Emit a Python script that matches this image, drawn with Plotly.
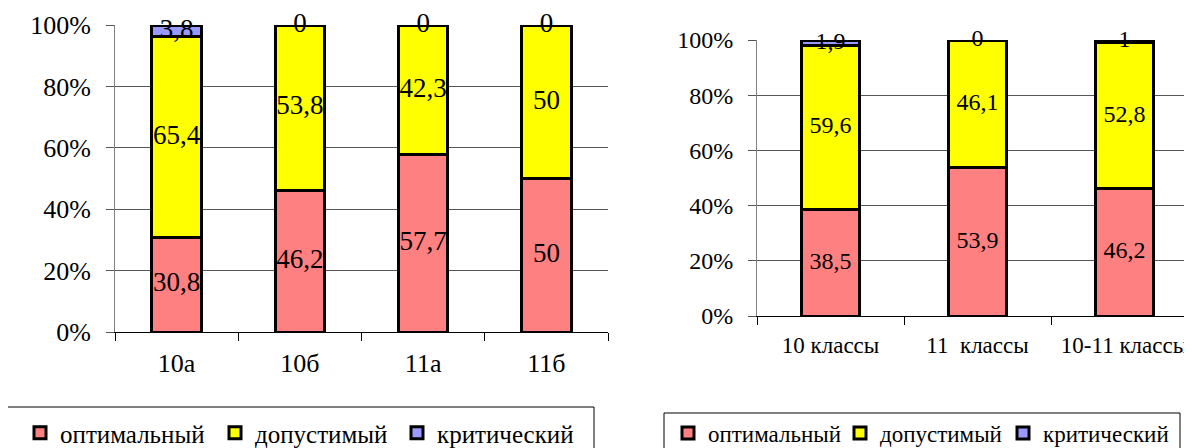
import numpy as np
import plotly.graph_objects as go

W, H = 1192, 448
OFF = 8  # default page margin around the plot div
FONT = "Liberation Serif"

# left chart: by class
classes = ["10а", "10б", "11а", "11б"]
optimal_cls = [30.8, 46.2, 57.7, 50]
allowed_cls = [65.4, 53.8, 42.3, 50]
critical_cls = [3.8, 0, 0, 0]

# right chart: by grade
grades = ["10 классы", "11\u00a0 классы", "10-11 классы"]
optimal_gr = [38.5, 53.9, 46.2]
allowed_gr = [59.6, 46.1, 52.8]
critical_gr = [1.9, 0, 1]

levels = ["оптимальный", "допустимый", "критический"]
colors = ["#FF8080", "#FFFF00", "#9999FF"]


def px_x(v):
    return (v - OFF) / W


def px_y(v):
    return 1 - (v - OFF) / H


def fmt(v):
    return f"{v:g}".replace(".", ",")


fig = go.Figure()


def add_chart(cats, series, xa, ya, legends, bar_w, fsize):
    for name, vals, col, lg in zip(levels, series, colors, legends):
        fig.add_trace(go.Bar(
            x=cats, y=vals, name=name, width=bar_w,
            marker=dict(color=col, line=dict(color="black", width=3)),
            xaxis=xa, yaxis=ya, legend=lg, hoverinfo="skip",
        ))
    # value labels centred in each segment
    arr = np.array(series, dtype=float)
    tops = np.cumsum(arr, axis=0)
    mids = tops - arr / 2
    for vals, ys in zip(arr, mids):
        fig.add_trace(go.Scatter(
            x=cats, y=ys, mode="text", text=[fmt(v) for v in vals],
            textfont=dict(family=FONT, size=fsize, color="black"),
            textposition="middle center", cliponaxis=False,
            showlegend=False, hoverinfo="skip", xaxis=xa, yaxis=ya,
        ))


add_chart(classes, [optimal_cls, allowed_cls, critical_cls], "x", "y",
          ["legend", "legend2", "legend3"], 0.40, 27)
add_chart(grades, [optimal_gr, allowed_gr, critical_gr], "x2", "y2",
          ["legend4", "legend5", "legend6"], 0.40, 24)


def xaxis_cfg(domain, rng, anchor, fsize):
    return dict(
        domain=domain, anchor=anchor, type="category", range=rng, showgrid=False,
        showline=True, linecolor="black", linewidth=1,
        ticks="outside", tickson="boundaries", ticklen=8, tickcolor="black",
        tickfont=dict(family=FONT, size=fsize, color="black"),
        ticklabelstandoff=8, fixedrange=True,
    )


def yaxis_cfg(domain, anchor, fsize):
    return dict(
        domain=domain, anchor=anchor, range=[0, 100], dtick=20, ticksuffix="%",
        showgrid=True, gridcolor="#555555", gridwidth=1, zeroline=False,
        showline=True, linecolor="#808080", linewidth=1,
        ticks="outside", ticklen=8, tickcolor="#555555",
        tickfont=dict(family=FONT, size=fsize, color="black"),
        ticklabelstandoff=10, fixedrange=True,
    )


def legend_cfg(text_x, fsize):
    return dict(
        orientation="h", x=px_x(text_x - 37), xanchor="left",
        y=px_y(433), yanchor="middle",
        font=dict(family=FONT, size=fsize, color="black"),
        bgcolor="rgba(0,0,0,0)", borderwidth=0,
    )


fig.update_layout(
    width=W, height=H,
    font=dict(family=FONT, color="black"),
    margin=dict(l=0, r=0, t=0, b=0, pad=0, autoexpand=False),
    paper_bgcolor="white", plot_bgcolor="white",
    barmode="stack", showlegend=True,
    xaxis=xaxis_cfg([px_x(115), px_x(608)], [-0.5, 3.5], "y", 26),
    yaxis=yaxis_cfg([px_y(332), px_y(25)], "x", 26),
    xaxis2=xaxis_cfg([px_x(757), 1.0],
                     [-0.5, -0.5 + 3 * (W + OFF - 757) / (1198 - 757)], "y2", 23),
    yaxis2=yaxis_cfg([px_y(316), px_y(40)], "x2", 24),
    legend=legend_cfg(57, 25),
    legend2=legend_cfg(252, 25),
    legend3=legend_cfg(434, 25),
    legend4=legend_cfg(705, 23),
    legend5=legend_cfg(877, 23),
    legend6=legend_cfg(1040, 23),
    shapes=[
        dict(type="rect", xref="paper", yref="paper",
             x0=px_x(5), x1=px_x(594), y0=px_y(407), y1=-0.2,
             line=dict(color="black", width=1), fillcolor="rgba(0,0,0,0)"),
        dict(type="rect", xref="paper", yref="paper",
             x0=px_x(664), x1=px_x(1180), y0=px_y(413), y1=-0.2,
             line=dict(color="black", width=1), fillcolor="rgba(0,0,0,0)"),
    ],
)

fig.write_html("out.html")
